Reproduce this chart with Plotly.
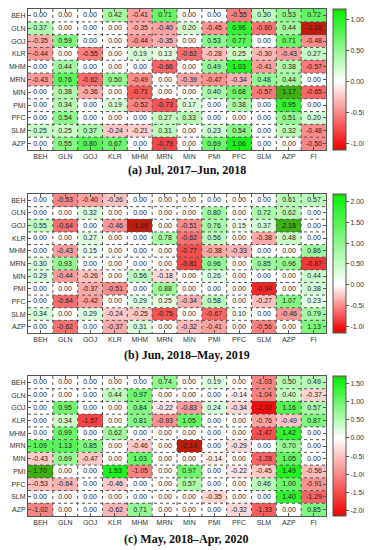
import plotly.graph_objects as go

cols = ["BEH", "GLN", "GOJ", "KLR", "MHM", "MRN", "MIN", "PMI", "PFC", "SLM", "AZP", "FI"]
rows = ["BEH", "GLN", "GOJ", "KLR", "MHM", "MRN", "MIN", "PMI", "PFC", "SLM", "AZP"]

vals_a = [
    [0.00, 0.00, 0.00, 0.42, -0.41, 0.71, 0.00, 0.00, -0.55, 0.30, 0.53, 0.72],
    [0.37, 0.00, 0.00, 0.00, -0.35, -0.40, 0.20, -0.45, 0.96, -0.60, 0.44, -1.10],
    [-0.35, 0.59, 0.00, 0.00, -0.44, -0.35, 0.00, 0.53, 0.77, 0.00, 0.71, -0.48],
    [-0.44, 0.00, -0.55, 0.00, 0.19, 0.13, -0.62, -0.28, 0.25, -0.30, -0.43, 0.27],
    [0.00, 0.44, 0.00, 0.00, 0.00, -0.66, 0.00, 0.49, 1.03, -0.41, 0.38, -0.57],
    [-0.43, 0.76, -0.62, 0.50, -0.49, 0.00, -0.39, -0.47, -0.34, 0.48, 0.44, 0.00],
    [0.00, 0.38, -0.36, 0.00, -0.71, 0.00, 0.00, 0.40, 0.68, -0.57, 1.17, -0.65],
    [0.00, 0.34, 0.00, 0.19, -0.52, -0.73, 0.17, 0.00, 0.38, 0.00, 0.95, 0.00],
    [0.00, 0.54, 0.00, 0.00, 0.00, 0.27, 0.33, 0.00, 0.00, 0.00, 0.51, 0.20],
    [0.25, 0.25, 0.37, -0.24, -0.21, 0.31, 0.00, 0.23, 0.54, 0.00, 0.32, -0.48],
    [0.00, 0.55, 0.80, 0.67, 0.00, -0.79, 0.00, 0.69, 1.06, 0.00, 0.00, -0.50],
]

vals_b = [
    [0.00, -0.53, -0.40, -0.26, 0.00, 0.00, 0.00, 0.00, 0.00, 0.00, 0.61, 0.57],
    [0.00, 0.00, 0.32, 0.00, 0.00, 0.00, 0.00, 0.80, 0.00, 0.72, 0.62, 0.00],
    [0.55, -0.64, 0.00, -0.46, -1.16, 0.00, -0.51, 0.76, 0.15, 0.37, 2.18, 0.00],
    [0.00, 0.00, 0.27, 0.00, 0.00, 0.78, -0.62, 0.56, 0.00, -0.38, 0.48, 0.00],
    [0.00, -0.43, 0.15, 0.00, 0.00, 0.00, -0.77, -0.38, -0.33, 0.00, 0.00, 0.86],
    [0.30, 0.93, 0.00, 0.00, 0.00, 0.00, -0.81, 0.96, 0.00, 0.85, 0.96, -0.87],
    [0.29, -0.44, -0.26, 0.00, 0.56, -0.18, 0.00, 0.26, 0.00, 0.00, 0.00, 0.44],
    [0.00, 0.00, -0.37, -0.51, 0.00, 0.88, 0.00, 0.00, 0.00, -0.94, 0.00, 0.38],
    [0.00, -0.64, -0.42, 0.00, 0.29, 0.25, -0.34, 0.58, 0.00, -0.27, 1.07, 0.23],
    [0.34, 0.00, 0.29, -0.24, -0.25, -0.75, 0.00, -0.67, 0.10, 0.00, -0.46, 0.79],
    [0.00, -0.62, 0.00, -0.37, 0.31, 0.00, -0.32, -0.41, 0.00, -0.56, 0.00, 1.13],
]

vals_c = [
    [0.00, 0.00, 0.00, 0.00, 0.00, 0.74, 0.00, 0.19, 0.00, -1.03, 0.50, 0.49],
    [0.00, 0.00, 0.00, 0.44, 0.97, 0.00, 0.00, 0.00, -0.14, -1.04, 0.40, -0.37],
    [0.00, 0.95, 0.00, 0.00, 0.84, -0.22, -0.83, 0.24, -0.34, -2.02, 1.16, 0.57],
    [0.00, 0.34, -1.57, 0.00, 0.81, -0.93, 1.05, 0.00, 0.00, -0.76, -0.49, 0.87],
    [0.00, 0.99, 0.00, 0.62, 0.00, 0.00, 0.00, 0.00, 0.00, -1.47, 1.42, 0.00],
    [1.09, 1.13, 0.85, 0.00, -0.46, 0.00, -2.14, 0.00, -0.29, 0.00, 0.70, 0.00],
    [-0.43, 0.69, -0.47, 0.00, 1.03, 0.00, 0.00, -0.14, 0.00, -1.28, 1.05, 0.00],
    [1.70, 0.00, 0.00, 1.53, -1.05, 0.00, 0.97, 0.00, -0.22, -0.45, 1.49, -0.56],
    [-0.53, -0.64, 0.00, -0.46, 0.00, 0.00, 0.57, 0.00, 0.00, 0.46, 1.00, -0.91],
    [0.00, 0.00, 0.00, 0.00, 0.00, 0.00, 0.00, -0.35, 0.00, 0.00, 1.40, -1.29],
    [-1.02, 0.00, 0.00, -0.62, 0.71, 0.00, 0.00, 0.00, -0.32, -1.33, 0.00, 0.85],
]

captions = ["(a) Jul, 2017\u2013Jun, 2018", "(b) Jun, 2018\u2013May, 2019", "(c) May, 2018\u2013Apr, 2020"]
cbar_ticks_a = [-1.0, -0.5, 0.0, 0.5, 1.0]
cbar_ticks_b = [-1.0, -0.5, 0.0, 0.5, 1.0, 1.5, 2.0]
cbar_ticks_c = [-2.0, -1.5, -1.0, -0.5, 0.0, 0.5, 1.0, 1.5]

# The page body has an 8px margin: the figure is drawn 8px in from the top-left.
OFF = 8
W, H = 372 - OFF, 550 - OFF
ML = 28 - OFF
PLOT_RIGHT = 326 - OFF
MR = W - PLOT_RIGHT
PW = PLOT_RIGHT - ML
# page-pixel extents (top, bottom) of each heatmap panel
panels_px = [(9, 150), (194, 333), (376, 516)]
caption_px = [170, 355, 539]
CBAR_X = 333

datasets = [vals_a, vals_b, vals_c]
ticksets = [cbar_ticks_a, cbar_ticks_b, cbar_ticks_c]

fig = go.Figure()
tick_font = dict(family="Liberation Sans, Arial, sans-serif", size=7, color="#333")
nx, ny = len(cols), len(rows)


def py(p):
    return 1 - (p - OFF) / H


for k, (vals, ticks, (t, b)) in enumerate(zip(datasets, ticksets, panels_px)):
    flat = [v for r in vals for v in r]
    zmin, zmax = min(flat), max(flat)
    zf = -zmin / (zmax - zmin)
    cs = [
        [0.0, "#c01c0c"],
        [0.03, "#f20c0c"],
        [zf, "#ffffff"],
        [0.975, "#10f010"],
        [1.0, "#3cb010"],
    ]
    sfx = "" if k == 0 else str(k + 1)
    y0 = py(b)
    y1 = py(t)
    fig.add_trace(go.Heatmap(
        z=vals, x=list(range(nx)), y=list(range(ny)),
        zmin=zmin, zmax=zmax, colorscale=cs,
        texttemplate="%{z:.2f}",
        textfont=dict(family="Liberation Sans, Arial, sans-serif", size=7, color="#222"),
        hoverinfo="skip",
        xaxis="x" + sfx, yaxis="y" + sfx,
        colorbar=dict(
            x=(CBAR_X - OFF - ML) / PW, xanchor="left", xpad=0,
            y=(y0 + y1) / 2, yanchor="middle", len=(y1 - y0), ypad=0,
            thickness=13, outlinewidth=1, outlinecolor="#555",
            tickvals=ticks, ticktext=["%.2f" % v for v in ticks],
            ticks="outside", ticklen=3, tickcolor="#555",
            tickfont=tick_font,
        ),
    ))
    fig.layout["xaxis" + sfx] = dict(
        domain=[0, 1], anchor="y" + sfx, range=[-0.5, nx - 0.5],
        tickvals=list(range(nx)), ticktext=cols, tickfont=tick_font,
        ticks="inside", ticklen=3, tickcolor="#555", mirror="ticks",
        showline=True, linecolor="#555", linewidth=1, showgrid=False, zeroline=False,
    )
    fig.layout["yaxis" + sfx] = dict(
        domain=[y0, y1], anchor="x" + sfx, range=[ny - 0.5, -0.5],
        tickvals=list(range(ny)), ticktext=rows, tickfont=tick_font,
        ticks="inside", ticklen=3, tickcolor="#555", mirror="ticks",
        showline=True, linecolor="#555", linewidth=1, showgrid=False, zeroline=False,
    )
    for i in range(1, nx):
        fig.add_shape(type="line", xref="x" + sfx, yref="y" + sfx,
                      x0=i - 0.5, x1=i - 0.5, y0=-0.5, y1=ny - 0.5,
                      line=dict(color="#555", width=1, dash="dot"))
    for j in range(1, ny):
        fig.add_shape(type="line", xref="x" + sfx, yref="y" + sfx,
                      x0=-0.5, x1=nx - 0.5, y0=j - 0.5, y1=j - 0.5,
                      line=dict(color="#555", width=1, dash="dot"))
    fig.add_annotation(
        text="<b>" + captions[k] + "</b>", xref="paper", yref="paper",
        x=(187 - OFF - ML) / PW, y=py(caption_px[k]),
        xanchor="center", yanchor="middle", showarrow=False,
        font=dict(family="Liberation Serif, serif", size=12, color="#111"),
    )

fig.update_layout(
    width=W, height=H,
    margin=dict(l=ML, r=MR, t=0, b=0, autoexpand=False),
    paper_bgcolor="white", plot_bgcolor="white",
    showlegend=False,
)

fig.write_html("out.html")
